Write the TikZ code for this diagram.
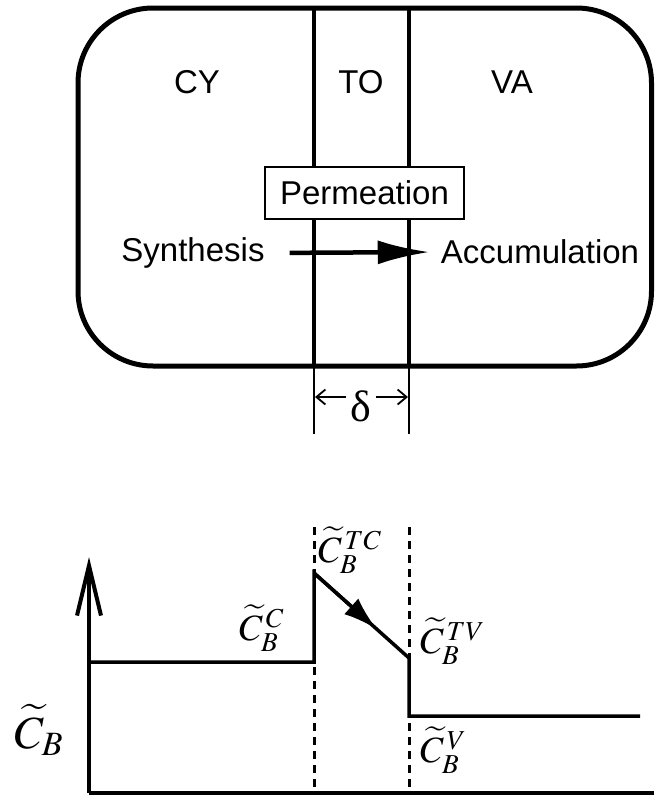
\documentclass[tikz,border=0pt]{standalone}
\usepackage{mathptmx}
\usepackage[no-math]{fontspec}
\setsansfont{Liberation Sans}
\newfontfamily\greekfont{Liberation Serif}
\usetikzlibrary{arrows.meta,calc}

\begin{document}
\begin{tikzpicture}[x=1pt, y=-1pt, line join=miter,
  label/.style={font=\sffamily\fontsize{33}{36}\selectfont, inner sep=2pt},
  conc/.style={font=\fontsize{37}{40}\selectfont, inner sep=0pt},
  wall/.style={line width=3.5pt},
  guide/.style={line width=3pt, dash pattern=on 8pt off 6pt},
  curve/.style={line width=3.5pt}]

\useasboundingbox (0,0) rectangle (654,795);

% ---------- Cell ----------
\begin{scope}
  \draw[line width=5pt, rounded corners=75pt] (78,8) rectangle (651.5,366);

  % tonoplast walls
  \draw[wall] (314,8) -- (314,366);
  \draw[wall] (409,8) -- (409,366);
  \draw[line width=1.8pt] (314,366) -- (314,434);
  \draw[line width=1.8pt] (409,366) -- (409,434);

  \node[label] (cy) at (197,82) {CY};
  \node[label] (to) at (361,82) {TO};
  \node[label] (va) at (512,82) {VA};

  \node[label, draw, line width=2.5pt, fill=white, inner sep=0pt,
        minimum width=199pt, minimum height=52pt] (perm) at (364.5,193) {Permeation};

  \node[label] (syn) at (193,253) {Synthesis};
  \node[label] (acc) at (540,252) {Accumulation};
  \draw[line width=4.5pt, -{Latex[length=52pt,width=24pt]},
        shorten <=23pt, shorten >=9pt] (syn.east) -- (acc.west);

  % thickness
  \node[inner sep=0pt, font=\greekfont\fontsize{44}{48}\selectfont] (delta) at (361,406) {δ};
  \coordinate (tol) at (315,397);
  \coordinate (tor) at (408,397);
  \draw[line width=1.8pt, -{Straight Barb[length=9pt,width=15pt]}] (delta.west) ++(-4,-9) -- (tol);
  \draw[line width=1.8pt, -{Straight Barb[length=9pt,width=15pt]}] (delta.east) ++(4,-9) -- (tor);
\end{scope}

% ---------- Concentration profile ----------
\begin{scope}
  \coordinate (o) at (89,793);
  \coordinate (ytop) at (89,557);
  \coordinate (xend) at (654,793);

  \draw[curve, -{Straight Barb[length=50pt,width=24pt,line width=4pt]}] (o) -- (ytop);
  \draw[curve] (o) -- (xend);

  \draw[guide] (314,527) -- (314,795);
  \draw[guide] (409,527) -- (409,795);

  \coordinate (c1) at (89,662);
  \coordinate (c2) at (314,662);
  \coordinate (tc) at (314,573);
  \coordinate (tv) at (409,658);
  \coordinate (v1) at (409,716);
  \coordinate (v2) at (640,716);

  \draw[curve] (c1) -- (c2) -- (tc) -- (tv) -- (v1) -- (v2);
  \draw[curve, -{Latex[length=34pt,width=21pt]}] (tc) -- ($(tc)!0.66!(tv)$);

  \node[conc, anchor=west] (ctc) at (318,550) {$\widetilde{C}_B^{\,TC}$};
  \node[conc, anchor=west] (cc) at (239,628) {$\widetilde{C}_B^{\,C}$};
  \node[conc, anchor=west] (ctv) at (420,641) {$\widetilde{C}_B^{\,TV}$};
  \node[conc, anchor=west] (cv) at (420,750) {$\widetilde{C}_B^{\,V}$};
  \node[conc, font=\fontsize{46}{50}\selectfont] (cb) at (39,730) {$\widetilde{C}_B$};
\end{scope}

\end{tikzpicture}
\end{document}
